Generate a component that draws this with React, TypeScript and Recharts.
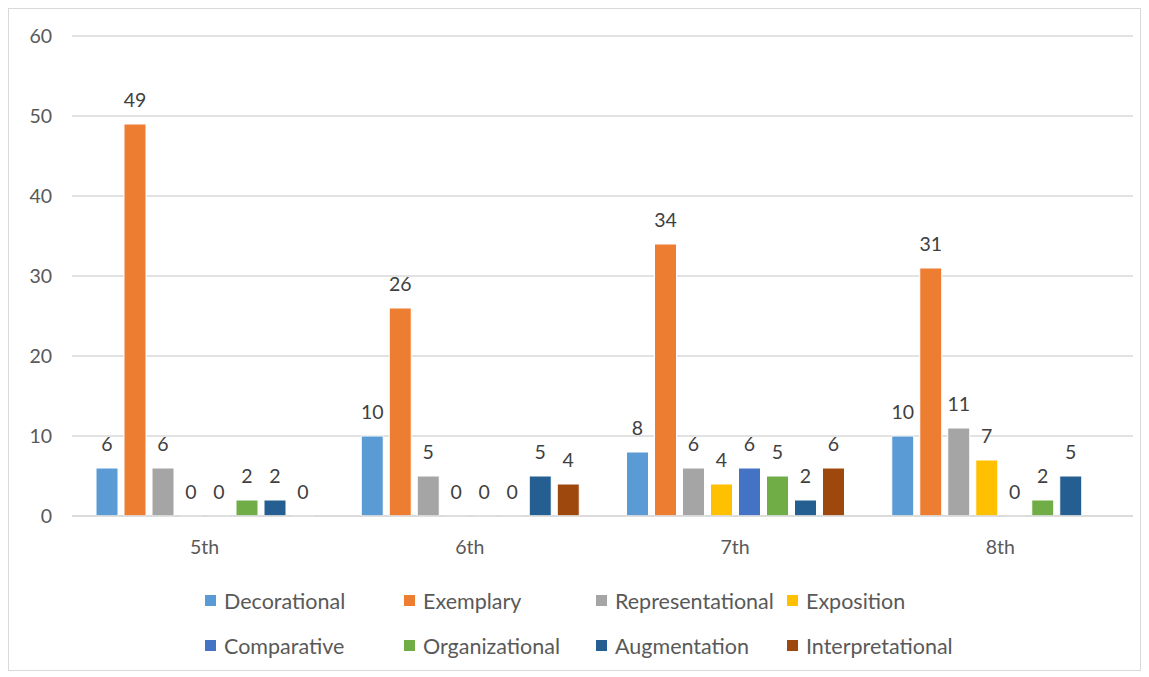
import { BarChart, Bar, XAxis, YAxis, CartesianGrid, LabelList } from "recharts";

const grades = ["5th", "6th", "7th", "8th"];

const decorational = [6, 10, 8, 10];
const exemplary = [49, 26, 34, 31];
const representational = [6, 5, 6, 11];
const exposition = [0, 0, 4, 7];
const comparative = [0, 0, 6, 0];
const organizational = [2, 0, 5, 2];
const augmentation = [2, 5, 2, 5];
const interpretational: (number | null)[] = [0, 4, 6, null];

const yTicks = [0, 10, 20, 30, 40, 50, 60];

const SERIES = [
  { key: "Decorational", values: decorational, color: "#5b9bd5" },
  { key: "Exemplary", values: exemplary, color: "#ed7d31" },
  { key: "Representational", values: representational, color: "#a5a5a5" },
  { key: "Exposition", values: exposition, color: "#ffc000" },
  { key: "Comparative", values: comparative, color: "#4472c4" },
  { key: "Organizational", values: organizational, color: "#70ad47" },
  { key: "Augmentation", values: augmentation, color: "#255e91" },
  { key: "Interpretational", values: interpretational, color: "#9e480e" },
];

const data = grades.map((g, i) => {
  const row: Record<string, string | number | null> = { grade: g };
  SERIES.forEach((s) => {
    row[s.key] = s.values[i];
  });
  return row;
});

const FONT = "Lato, 'Open Sans', sans-serif";

// legend laid out like Excel's: 4 columns, 2 rows
function LegendGrid() {
  return (
    <div
      style={{
        position: "absolute",
        left: 196,
        top: 569,
        display: "grid",
        gridTemplateColumns: "199px 192px 191px 200px",
        gridAutoRows: "45px",
        fontFamily: FONT,
        fontSize: 21.5,
        color: "#595959",
      }}
    >
      {SERIES.map((s) => (
        <div key={s.key} style={{ display: "flex", alignItems: "center", whiteSpace: "nowrap" }}>
          <span
            style={{
              display: "inline-block",
              width: 11,
              height: 11,
              background: s.color,
              marginRight: 8,
            }}
          />
          {s.key}
        </div>
      ))}
    </div>
  );
}

export default function App() {
  return (
    <div
      style={{
        position: "relative",
        width: 1133,
        height: 663,
        border: "1px solid #d9d9d9",
        boxSizing: "border-box",
        background: "#fff",
      }}
    >
      <BarChart
        width={1131}
        height={661}
        data={data}
        margin={{ top: 27, right: 7, bottom: 124, left: 0 }}
        barSize={22}
        barGap={6}
      >
        <CartesianGrid vertical={false} stroke="#d9d9d9" strokeWidth={1.3} />
        <XAxis
          dataKey="grade"
          axisLine={{ stroke: "#d9d9d9", strokeWidth: 1.3 }}
          tickLine={false}
          tickMargin={18}
          height={30}
          tick={{ fill: "#595959", fontSize: 19.5, fontFamily: FONT }}
        />
        <YAxis
          width={63}
          domain={[0, 60]}
          ticks={yTicks}
          axisLine={false}
          tickLine={false}
          tickSize={0}
          tickMargin={20}
          tick={{ fill: "#595959", fontSize: 19.5, fontFamily: FONT }}
        />
        {SERIES.map((s) => (
          <Bar
            key={s.key}
            dataKey={s.key}
            fill={s.color}
            stroke="#ffffff"
            strokeWidth={1}
            minPointSize={(v: unknown) => (v === 0 ? 0.01 : 0)}
            isAnimationActive={false}
          >
            <LabelList
              dataKey={s.key}
              position="top"
              offset={17}
              formatter={(v: unknown) => (v === null || v === undefined ? "" : String(v))}
              style={{ fill: "#404040", fontSize: 19.5, fontFamily: FONT }}
            />
          </Bar>
        ))}
      </BarChart>
      <LegendGrid />
    </div>
  );
}
